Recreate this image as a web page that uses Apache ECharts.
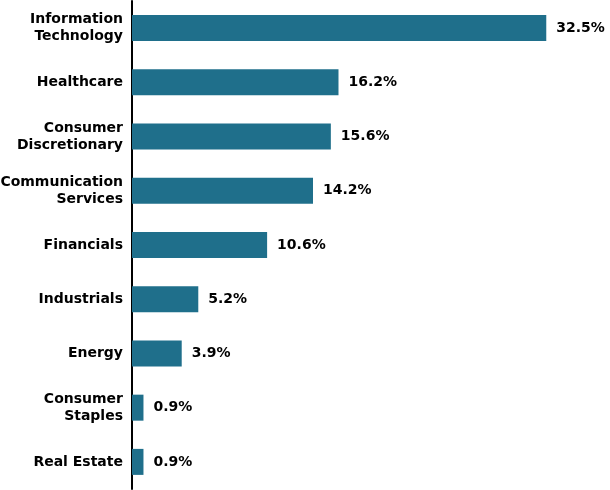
<!DOCTYPE html>
<html>
<head>
<meta charset="utf-8">
<script src="https://cdn.jsdelivr.net/npm/echarts@6/dist/echarts.min.js"></script>
<style>
  html, body { margin: 0; padding: 0; background: #fff; }
  #chart { width: 610px; height: 490px; }
</style>
</head>
<body>
<div id="chart"></div>
<script>
// sector weights, top to bottom
const sectors = [
  "Information\nTechnology",
  "Healthcare",
  "Consumer\nDiscretionary",
  "Communication\nServices",
  "Financials",
  "Industrials",
  "Energy",
  "Consumer\nStaples",
  "Real Estate"
];
const weights = [32.5, 16.2, 15.6, 14.2, 10.6, 5.2, 3.9, 0.9, 0.9];

const chart = echarts.init(document.getElementById("chart"));
const font = "'DejaVu Sans', Verdana, sans-serif";

chart.setOption({
  animation: false,
  grid: {
    left: 132, right: 0, top: 1, bottom: 1,
    containLabel: false,
    outerBoundsMode: "none"
  },
  xAxis: {
    type: "value",
    min: 0,
    max: 37.5,
    show: false
  },
  yAxis: {
    type: "category",
    inverse: true,
    data: sectors,
    axisLine: { lineStyle: { color: "#000", width: 2 } },
    axisTick: { show: false },
    axisLabel: {
      color: "#000",
      fontFamily: font,
      fontWeight: "bold",
      fontSize: 14,
      lineHeight: 17,
      margin: 9
    }
  },
  series: [
    {
      type: "bar",
      data: weights,
      barWidth: 26,
      itemStyle: { color: "#1f6f8b" },
      label: {
        show: true,
        position: "right",
        distance: 10,
        color: "#000",
        fontFamily: font,
        fontWeight: "bold",
        fontSize: 14,
        formatter: (p) => p.value.toFixed(1) + "%"
      }
    }
  ]
});
</script>
</body>
</html>
